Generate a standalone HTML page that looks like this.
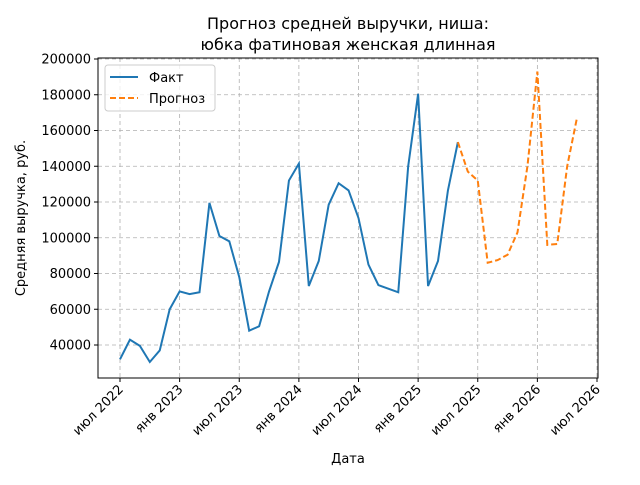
<!DOCTYPE html>
<html><head><meta charset="utf-8"><style>
body{margin:0;background:#fff;font-family:"Liberation Sans","DejaVu Sans",sans-serif;}
svg text{font-family:"DejaVu Sans","Liberation Sans",sans-serif;}
</style></head><body>
<svg id="c" width="640" height="480" xmlns="http://www.w3.org/2000/svg">
<text x="348" y="29" font-size="16" text-anchor="middle">Прогноз средней выручки, ниша:</text>
<text x="348" y="50" font-size="16" text-anchor="middle">юбка фатиновая женская длинная</text>
<g id="grid"></g><g id="axes"></g><g id="series"></g>
<rect x="98" y="58" width="500" height="320" fill="none" stroke="#000" stroke-width="1"/>
<text x="348" y="463" font-size="13" text-anchor="middle">Дата</text>
<text transform="translate(25,218) rotate(-90)" font-size="13" text-anchor="middle">Средняя выручка, руб.</text>
<g>
<rect x="105" y="65" width="110" height="46" rx="3" fill="#fff" fill-opacity="0.8" stroke="#ccc"/>
<line x1="110" y1="77" x2="138" y2="77" stroke="#1f77b4" stroke-width="2"/>
<text x="149" y="82" font-size="13">Факт</text>
<line x1="110" y1="98" x2="138" y2="98" stroke="#ff7f0e" stroke-width="2" stroke-dasharray="6,3"/>
<text x="149" y="103" font-size="13">Прогноз</text>
</g>
</svg>
<script>
const factValues=[32000,43000,39500,30500,37000,60000,70000,68500,69500,119500,101000,98000,78000,48000,50500,70000,86500,132000,141500,73000,87000,118500,130500,126500,111000,85000,73500,71500,69500,140000,180500,73000,87000,126500,153500];
const forecastValues=[153500,137000,132000,86000,87500,90500,103000,140000,193000,96000,96500,140000,167500];
const forecastStart=34;
const yTicks=[40000,60000,80000,100000,120000,140000,160000,180000,200000];
const xTickLabels=["июл 2022","янв 2023","июл 2023","янв 2024","июл 2024","янв 2025","июл 2025","янв 2026","июл 2026"];
const xTickMonths=[0,6,12,18,24,30,36,42,48];
const NS="http://www.w3.org/2000/svg";
const xs=m=>120+m*(597-120)/48;
const ys=v=>345-(v-40000)*(345-59)/160000;
function mk(t,a,p){const e=document.createElementNS(NS,t);for(const k in a)e.setAttribute(k,a[k]);p.appendChild(e);return e;}
const grid=document.getElementById('grid'),axes=document.getElementById('axes'),ser=document.getElementById('series');
yTicks.forEach(v=>{const y=ys(v);
 const g=mk('line',{x1:98,x2:598,y1:y,y2:y,stroke:'#b0b0b0','stroke-dasharray':'4,3','stroke-width':0.8},grid);
 
 
 mk('line',{x1:94,x2:98,y1:y,y2:y,stroke:'#000'},axes);
 const t=mk('text',{x:91,y:y+4.5,'font-size':13,'text-anchor':'end'},axes);t.textContent=v;
 
 
});
xTickMonths.forEach((m,i)=>{const x=xs(m);
 const g=mk('line',{x1:x,x2:x,y1:58,y2:378,stroke:'#b0b0b0','stroke-dasharray':'4,3','stroke-width':0.8},grid);
 
 
 mk('line',{x1:x,x2:x,y1:378,y2:382,stroke:'#000'},axes);
 const t=mk('text',{x:x+4,y:390,'font-size':13,'text-anchor':'end',transform:`rotate(-45 ${x+4} 390)`},axes);t.textContent=xTickLabels[i];
 
 
});
const f=mk('polyline',{points:factValues.map((v,i)=>xs(i)+','+ys(v)).join(' '),fill:'none',stroke:'#1f77b4','stroke-width':2},ser);


const p=mk('polyline',{points:forecastValues.map((v,i)=>xs(forecastStart+i)+','+ys(v)).join(' '),fill:'none',stroke:'#ff7f0e','stroke-width':2,'stroke-dasharray':'6,3'},ser);


</script>
</body></html>
